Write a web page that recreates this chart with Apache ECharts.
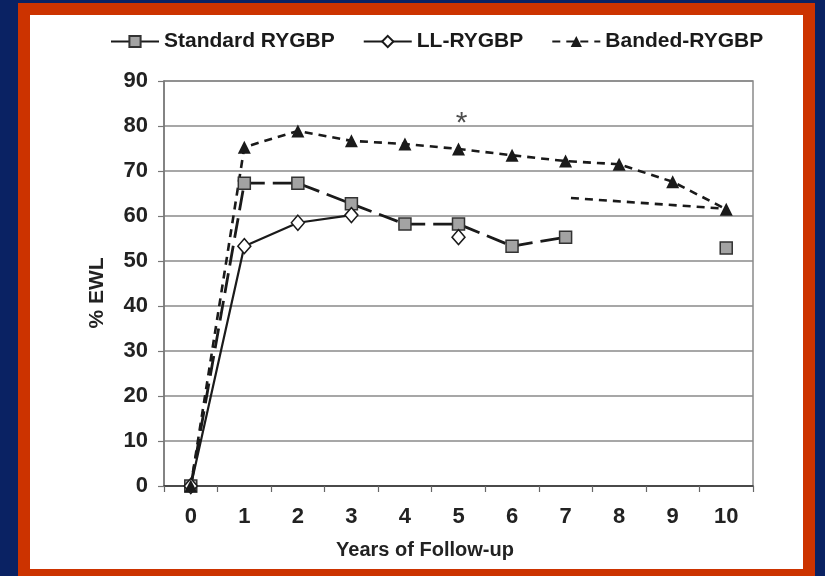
<!DOCTYPE html>
<html>
<head>
<meta charset="utf-8">
<script src="https://cdn.jsdelivr.net/npm/echarts@6/dist/echarts.min.js"></script>
<style>
html,body{margin:0;padding:0;width:825px;height:576px;overflow:hidden;background:#0a2263;}
#red{position:absolute;left:18px;top:3px;width:797px;height:573px;background:#cc3300;}
#white{position:absolute;left:30px;top:15px;width:773px;height:554px;background:#ffffff;}
#chart{position:absolute;left:0;top:0;width:825px;height:576px;}
</style>
</head>
<body>
<div id="red"></div>
<div id="white"></div>
<div id="chart"></div>
<script>
// ---- data ----
const years = ['0', '1', '2', '3', '4', '5', '6', '7', '8', '9', '10'];
const standardRYGBP = [0, 67.3, 67.3, 62.7, 58.2, 58.2, 53.3, 55.3, null, null, 52.9];
const llRYGBP = [0, 53.3, 58.5, 60.2, null, 55.3, null, null, null, null, null];
const bandedRYGBP = [0, 75.3, 78.9, 76.7, 76.0, 74.9, 73.5, 72.2, 71.5, 67.6, 61.5];
const bandedTrendX = [7.1, 10];
const bandedTrendY = [64.0, 61.6];
const asteriskYear = 5;
const asteriskValue = 80.6;
const yMin = 0, yMax = 90, yStep = 10;

const FONT = '"Liberation Sans", Arial, Helvetica, sans-serif';
const chart = echarts.init(document.getElementById('chart'), null, {renderer: 'canvas'});

const trendData = bandedTrendX.map((x, i) => [x, bandedTrendY[i]]);

chart.setOption({
  backgroundColor: 'transparent',
  animation: false,
  textStyle: {fontFamily: FONT},
  legend: {
    left: 110, top: 31, padding: 0,
    itemWidth: 48, itemHeight: 14, itemGap: 28,
    textStyle: {fontFamily: FONT, fontSize: 21, fontWeight: 'bold', color: '#1a1a1a'},
    data: ['Standard RYGBP', 'LL-RYGBP', 'Banded-RYGBP']
  },
  grid: {
    left: 164, right: 72, top: 81, bottom: 90,
    show: true, borderColor: '#8a8a8a', borderWidth: 1.5, backgroundColor: 'transparent'
  },
  xAxis: [{
    type: 'category', data: years, boundaryGap: true,
    axisLine: {lineStyle: {color: '#333', width: 1.5}},
    axisTick: {show: true, length: 6, lineStyle: {color: '#666', width: 1.2}},
    axisLabel: {margin: 20, fontFamily: FONT, fontSize: 22, fontWeight: 'bold', color: '#222'},
    splitLine: {show: false}
  }, {
    type: 'value', min: -0.5, max: 10.5, show: false, position: 'bottom'
  }],
  yAxis: {
    type: 'value', min: yMin, max: yMax, interval: yStep,
    axisLine: {show: true, onZero: false, lineStyle: {color: '#777', width: 1.5}},
    axisTick: {show: true, length: 6, lineStyle: {color: '#777', width: 1.2}},
    axisLabel: {margin: 16, fontFamily: FONT, fontSize: 22, fontWeight: 'bold', color: '#222'},
    splitLine: {lineStyle: {color: '#8a8a8a', width: 1.5}}
  },
  graphic: [
    {type: 'text', x: 425, y: 550, silent: true,
     style: {text: 'Years of Follow-up', font: 'bold 20px ' + FONT, fill: '#222', textAlign: 'center', textVerticalAlign: 'middle'}},
    {type: 'text', x: 97, y: 293, rotation: Math.PI / 2, silent: true,
     style: {text: '% EWL', font: 'bold 21px ' + FONT, fill: '#222', textAlign: 'center', textVerticalAlign: 'middle'}}
  ],
  series: [
    {
      name: 'Standard RYGBP', type: 'line', data: standardRYGBP, connectNulls: false,
      symbol: 'rect', symbolSize: 12, showAllSymbol: true,
      lineStyle: {color: '#1a1a1a', width: 2.8, type: [20, 8]},
      itemStyle: {color: '#a3a3a3', borderColor: '#333', borderWidth: 1.5}
    },
    {
      name: 'LL-RYGBP', type: 'line', data: llRYGBP, connectNulls: false,
      symbol: 'diamond', symbolSize: [13, 15], showAllSymbol: true,
      lineStyle: {color: '#1a1a1a', width: 2.2, type: 'solid'},
      itemStyle: {color: '#ffffff', borderColor: '#1a1a1a', borderWidth: 1.5}
    },
    {
      name: 'Banded-RYGBP', type: 'line', data: bandedRYGBP,
      symbol: 'triangle', symbolSize: 13, showAllSymbol: true,
      lineStyle: {color: '#1a1a1a', width: 2.6, type: [8, 6]},
      itemStyle: {color: '#1a1a1a', borderColor: '#1a1a1a', borderWidth: 0}
    },
    {
      name: 'Banded trend', type: 'line', xAxisIndex: 1, data: trendData,
      symbol: 'none', lineStyle: {color: '#1a1a1a', width: 2.6, type: [8, 6]}
    },
    {
      name: 'asterisk', type: 'scatter', data: [[asteriskYear, asteriskValue]],
      symbolSize: 1, itemStyle: {color: 'rgba(0,0,0,0)'},
      label: {show: true, position: 'inside', offset: [3, 0], formatter: '*', fontFamily: FONT, fontSize: 30, color: '#222'}
    }
  ]
});
</script>
</body>
</html>
